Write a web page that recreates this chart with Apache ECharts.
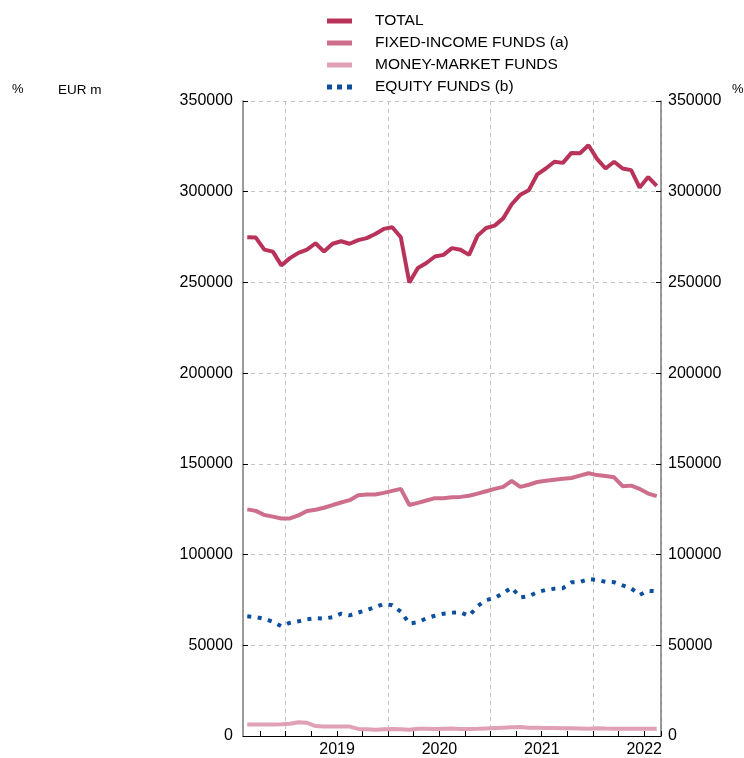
<!DOCTYPE html>
<html>
<head>
<meta charset="utf-8">
<script src="https://cdn.jsdelivr.net/npm/echarts@6/dist/echarts.min.js"></script>
<style>html,body{margin:0;padding:0;background:#fff;}#c{width:744px;height:758px;}</style>
</head>
<body>
<div id="c"></div>
<script>
var months = [
 '2018-08','2018-09','2018-10','2018-11','2018-12',
 '2019-01','2019-02','2019-03','2019-04','2019-05','2019-06','2019-07','2019-08','2019-09','2019-10','2019-11','2019-12',
 '2020-01','2020-02','2020-03','2020-04','2020-05','2020-06','2020-07','2020-08','2020-09','2020-10','2020-11','2020-12',
 '2021-01','2021-02','2021-03','2021-04','2021-05','2021-06','2021-07','2021-08','2021-09','2021-10','2021-11','2021-12',
 '2022-01','2022-02','2022-03','2022-04','2022-05','2022-06','2022-07','2022-08'
];
var total = [
 274900,274700,268100,267000,259400,
 263400,266300,268100,271600,267000,271300,272700,271300,273300,274400,276700,279500,
 280400,274900,249900,258000,260700,264300,265200,268900,268000,265200,275800,280000,
 281300,285300,293100,298300,300800,309600,312800,316500,315900,321400,321200,325600,
 318100,312800,316500,312800,311900,302300,308100,303200
];
var fixedIncome = [
 124900,124100,121800,120900,119900,
 119900,121600,124000,124700,125800,127300,128700,130000,132700,133100,133100,134000,
 135100,136200,127300,128500,129800,131100,131100,131600,131800,132400,133600,134900,
 136200,137300,140600,137300,138500,140000,140700,141300,141800,142200,143500,144800,
 143800,143300,142600,137700,138000,136200,133600,132200
];
var moneyMarket = [
 6400,6400,6400,6400,6500,
 6800,7600,7300,5500,5200,5200,5200,5200,3900,3700,3500,3700,
 3900,3700,3500,4000,4000,3900,4000,4100,3900,3900,4000,4200,
 4400,4600,4800,4900,4600,4500,4400,4400,4300,4300,4200,4000,
 4300,4100,4000,4000,4000,4000,4000,4000
];
var equity = [
 66000,65500,64600,63000,60500,
 62400,63200,64300,64900,64700,65500,67400,66500,68000,69400,71000,72800,
 72100,68500,62000,62700,64900,66300,67400,68000,68200,66200,71600,74900,
 76000,78700,81800,76400,77000,79300,80500,81200,81500,84700,84900,86500,
 86000,85000,84800,83000,81400,77800,80000,79800
];
var yTicks = [0,50000,100000,150000,200000,250000,300000,350000];
var seriesNames = ['TOTAL','FIXED-INCOME FUNDS (a)','MONEY-MARKET FUNDS','EQUITY FUNDS (b)'];
var colors = ['#b8325a','#cd6f8c','#e0a0b5','#0b4f9e'];

var FONT = '"Liberation Sans", Arial, Helvetica, sans-serif';
var chart = echarts.init(document.getElementById('c'), null, {renderer:'canvas'});

function mon(v){ return v.slice(5); }

var yAxisCommon = {
  type:'value', min:yTicks[0], max:yTicks[yTicks.length-1], interval:50000,
  axisLine:{show:true, lineStyle:{color:'#7a7a7a', width:1.5}},
  axisTick:{show:true, inside:true, length:5, lineStyle:{color:'#000'}},
  axisLabel:{color:'#000', fontFamily:FONT, fontSize:16, formatter:function(v){ return String(v); }},
};

var option = {
  animation:false,
  backgroundColor:'#fff',
  color:colors,
  grid:{left:243, right:83, top:101, bottom:17, containLabel:false},
  legend:{
    orient:'vertical', left:327, top:13, padding:0, itemGap:6, itemWidth:25, itemHeight:5,
    textStyle:{color:'#000', fontFamily:FONT, fontSize:15.5, padding:[0,0,0,18]},
    data:[
      {name:seriesNames[0], icon:'rect', itemStyle:{color:colors[0]}},
      {name:seriesNames[1], icon:'rect', itemStyle:{color:colors[1]}},
      {name:seriesNames[2], icon:'rect', itemStyle:{color:colors[2]}},
      {name:seriesNames[3], icon:'path://M0,0h5v5h-5zM10,0h5v5h-5zM20,0h5v5h-5z', itemStyle:{color:colors[3]}}
    ]
  },
  graphic:[
    {type:'text', left:12, top:83, style:{text:'%', fill:'#000', font:'13px '+FONT}},
    {type:'text', left:58, top:83, style:{text:'EUR m', fill:'#000', font:'13.5px '+FONT}},
    {type:'text', left:732, top:83, style:{text:'%', fill:'#000', font:'13px '+FONT}}
  ],
  xAxis:{
    type:'category', data:months, boundaryGap:true,
    axisLine:{show:true, lineStyle:{color:'#000', width:1}},
    axisTick:{show:true, inside:true, length:5, lineStyle:{color:'#000'},
      interval:function(i,v){ var m=mon(v); return m==='01'||m==='04'||m==='07'||m==='10'; }},
    axisLabel:{color:'#000', fontFamily:FONT, fontSize:16, margin:6, padding:[0,8,0,0],
      interval:function(i,v){ return mon(v)==='07'; },
      formatter:function(v){ return v.slice(0,4); }},
    splitLine:{show:true, lineStyle:{color:'#c4c4c4', type:[4,4], width:1},
      interval:function(i,v){ return mon(v)==='01'; }}
  },
  yAxis:[
    Object.assign({}, yAxisCommon, {position:'left',
      axisLabel:Object.assign({}, yAxisCommon.axisLabel, {margin:10}),
      splitLine:{show:true, lineStyle:{color:'#c4c4c4', type:[4,4], width:1}}}),
    Object.assign({}, yAxisCommon, {position:'right',
      axisLabel:Object.assign({}, yAxisCommon.axisLabel, {margin:7}),
      splitLine:{show:false}})
  ],
  series:[
    {name:seriesNames[3], type:'line', data:equity, symbol:'none', z:3,
      itemStyle:{color:colors[3]},
      lineStyle:{color:colors[3], width:4, type:[4,6.5], cap:'butt'}},
    {name:seriesNames[2], type:'line', data:moneyMarket, symbol:'none', z:4,
      itemStyle:{color:colors[2]},
      lineStyle:{color:colors[2], width:4}},
    {name:seriesNames[1], type:'line', data:fixedIncome, symbol:'none', z:5,
      itemStyle:{color:colors[1]},
      lineStyle:{color:colors[1], width:4}},
    {name:seriesNames[0], type:'line', data:total, symbol:'none', z:6,
      itemStyle:{color:colors[0]},
      lineStyle:{color:colors[0], width:4}}
  ]
};
chart.setOption(option);
</script>
</body>
</html>
